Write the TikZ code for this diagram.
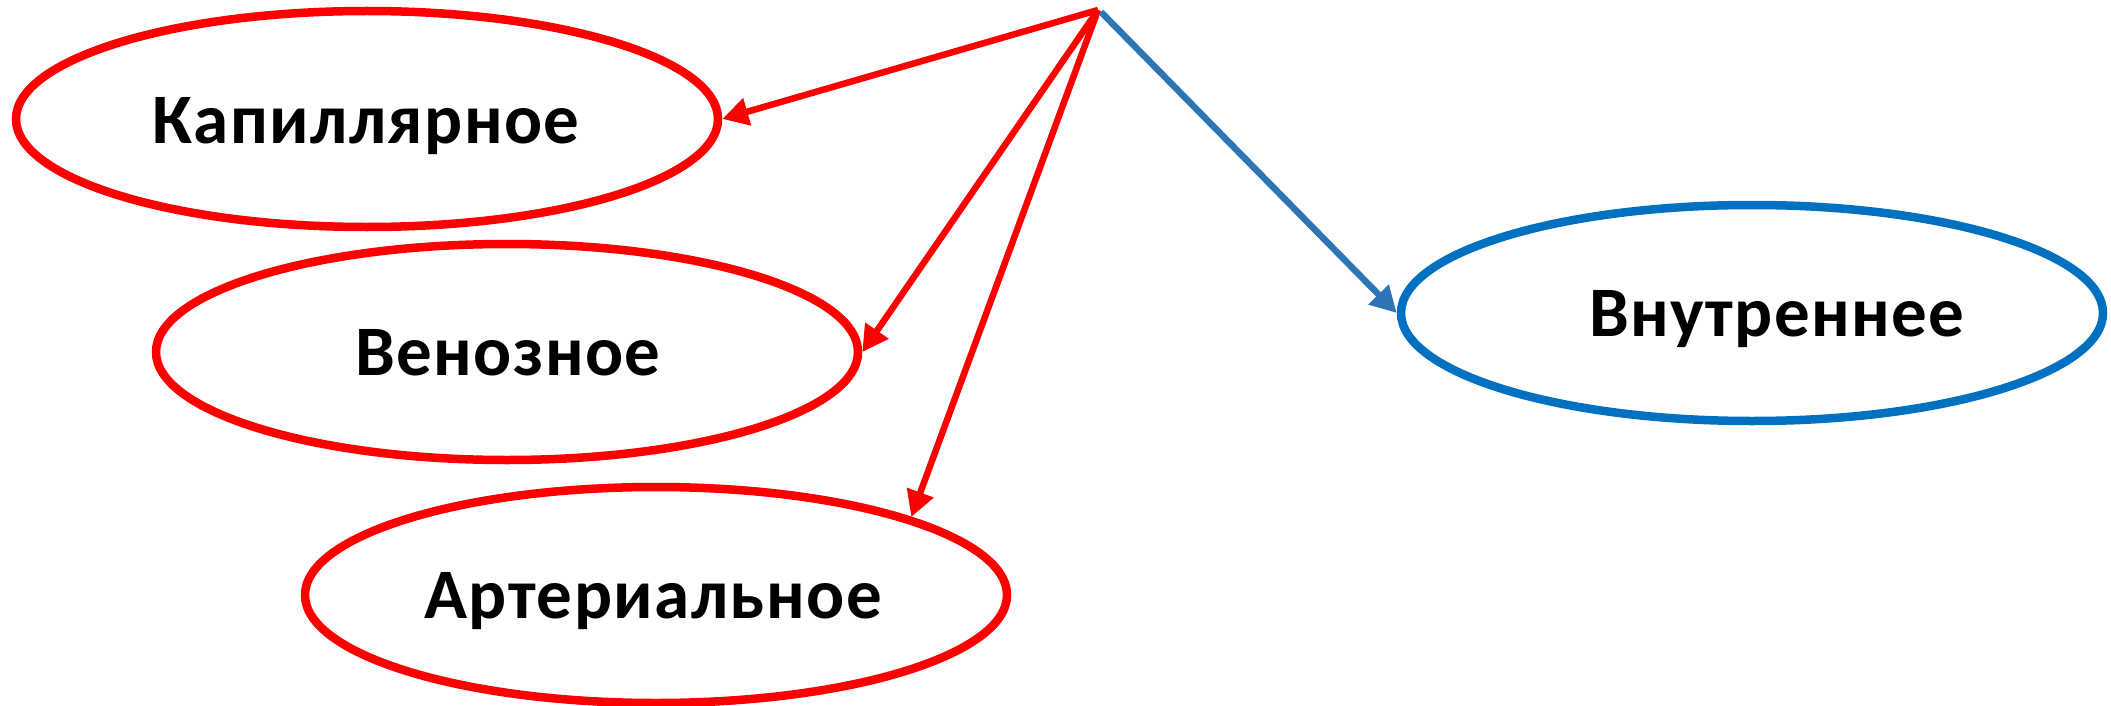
\documentclass[tikz,border=0pt]{standalone}
\usepackage{fontspec}
\setmainfont{Carlito}[LetterSpace=2]
\usetikzlibrary{shapes.geometric,arrows.meta}
\definecolor{myred}{RGB}{255,0,0}
\definecolor{myblue}{RGB}{0,112,192}
\definecolor{arrblue}{RGB}{46,117,182}
\tikzset{
  ell/.style={ellipse, draw, line width=8.5pt, minimum width=702pt, minimum height=216pt, inner sep=0pt},
  lbl/.style={anchor=base, font=\fontsize{71}{85}\selectfont\bfseries, inner sep=0pt},
  conn/.style={line width=6.5pt, -{Triangle[length=26pt,width=27pt]}, shorten >=0pt},
}
\begin{document}
\begin{tikzpicture}[x=1pt,y=-1pt]
\useasboundingbox (0,0) rectangle (2111,706);
\node[ell, myred] (k) at (367,119) {};
\node[ell, myred] (v) at (507,352) {};
\node[ell, myred] (a) at (656,595) {};
\node[ell, myblue] (b) at (1752,313) {};
\node[lbl] (kt) at (366,143) {Капиллярное};
\node[lbl] (vt) at (508,375) {Венозное};
\node[lbl] (at) at (653,618) {Артериальное};
\node[lbl] (bt) at (1777,336) {Внутреннее};
\coordinate (apex) at (1098,10);
\coordinate (apexb) at (1101,12);
\draw[conn, myred] (apex) -- (k.east);
\draw[conn, myred] (apex) -- (v.east);
\draw[conn, myred] (apex) -- (a.17.5);
\draw[conn, arrblue] (apexb) -- (b.west);
\end{tikzpicture}
\end{document}
